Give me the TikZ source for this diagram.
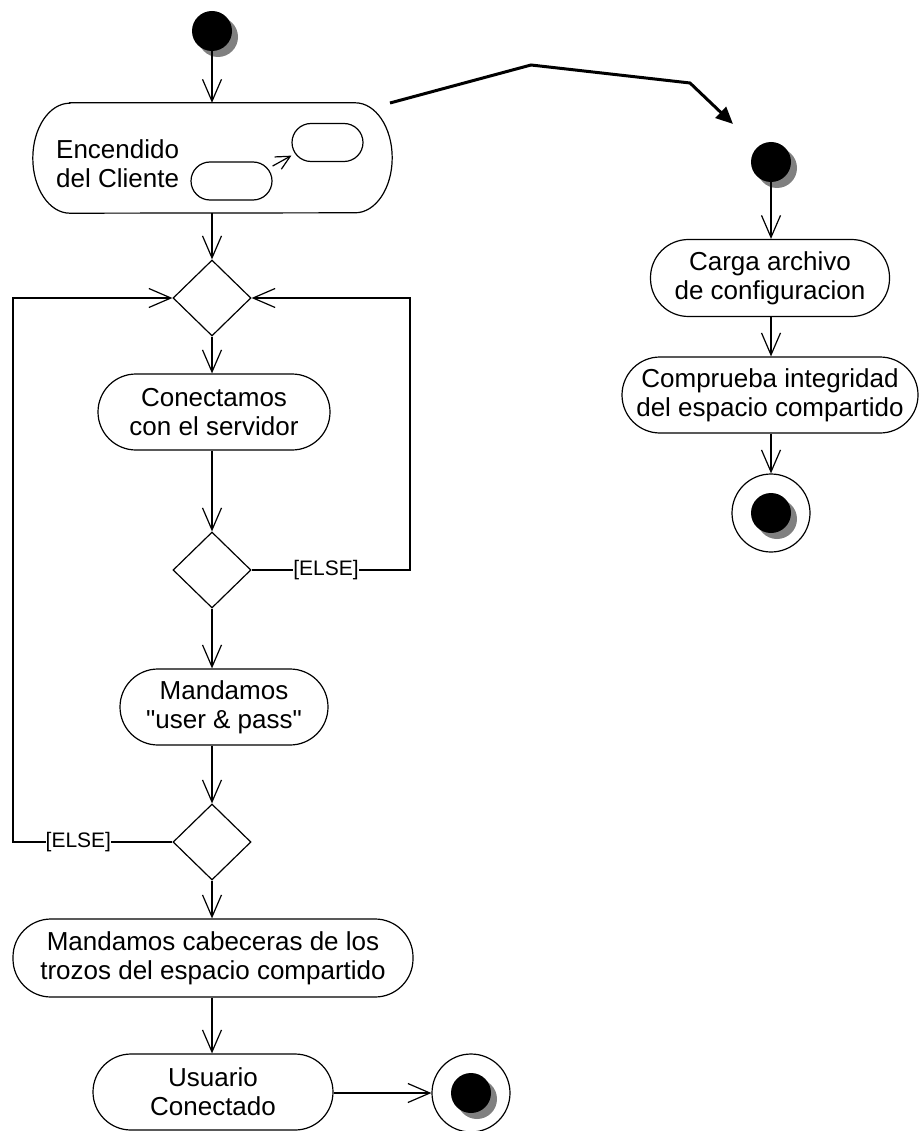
\documentclass[tikz,border=0pt]{standalone}
\usepackage{fontspec}
\setmainfont{Liberation Sans}[Ligatures=TeXOff]
\usetikzlibrary{arrows.meta,shapes.geometric,shadows,calc}
\definecolor{shadowgray}{RGB}{128,128,128}

\begin{document}
\begin{tikzpicture}[x=1pt,y=-1pt,
  every node/.style={font=\fontsize{26}{29}\selectfont},
  line/.style={line width=1.2pt},
  arr/.style={line, -{Straight Barb[length=22pt,width=19pt]}},
  smallarr/.style={line, -{Straight Barb[length=14pt,width=14pt]}},
  act/.style={draw, line width=1.2pt, rectangle, rounded corners=38pt,
    minimum height=76pt, inner sep=0pt, align=center},
  mini/.style={draw, line width=1.2pt, rectangle, rounded corners=19pt,
    minimum height=38pt, inner sep=0pt},
  decision/.style={draw, line width=1.2pt, diamond, minimum width=78pt,
    minimum height=76pt, inner sep=0pt},
  dot/.style={circle, fill=black, minimum size=40pt, inner sep=0pt,
    general shadow={shadow xshift=6pt, shadow yshift=-6pt, fill=shadowgray}},
  endring/.style={circle, draw, line width=1.2pt, minimum size=78pt, inner sep=0pt},
  guard/.style={fill=white, inner sep=0pt, font=\fontsize{21}{24}\selectfont},
]
\useasboundingbox (0,0) rectangle (920,1131);

% ---- main flow ----
\node[dot] (start1) at (212,31) {};

\node[minimum width=359pt, minimum height=110pt, inner sep=0pt] (enc) at (212.5,158) {};
\draw[line] ($(enc.north west)+(37,0)$) -- ($(enc.north east)+(-37,0)$)
  arc[start angle=-90, end angle=90, x radius=37, y radius=55]
  -- ($(enc.south west)+(37,0)$)
  arc[start angle=90, end angle=270, x radius=37, y radius=55] -- cycle;
\node[anchor=west, align=left, inner sep=0pt] (enctext) at (56,164) {Encendido\\del Cliente};
\node[mini, minimum width=71pt] (sub1) at (327.5,142.5) {};
\node[mini, minimum width=81pt] (sub2) at (231.5,181) {};
\draw[smallarr] (sub2.20) -- (sub1.200);

\node[decision] (d1) at (212,298) {};
\node[act, minimum width=232pt] (con) at (214,412) {Conectamos\\con el servidor};
\node[decision] (d2) at (212,570) {};
\node[act, minimum width=208pt] (man) at (224,707) {Mandamos\\"user \& pass"};
\node[decision] (d3) at (212,842) {};
\node[act, minimum width=400pt, minimum height=78pt] (cab) at (213,958)
  {Mandamos cabeceras de los\\trozos del espacio compartido};
\node[act, minimum width=240pt] (usu) at (213,1092) {Usuario\\Conectado};
\node[endring] (fin1) at (471,1093) {};
\node[dot] (fin1dot) at (fin1) {};

\draw[arr] (start1) -- (start1 |- enc.north);
\draw[arr] (enc.south -| d1.north) -- (d1.north);
\draw[arr] (d1.south) -- (d1.south |- con.north);
\draw[arr] (con.south -| d2.north) -- (d2.north);
\draw[arr] (d2.south) -- (d2.south |- man.north);
\draw[arr] (man.south -| d3.north) -- (d3.north);
\draw[arr] (d3.south) -- (d3.south |- cab.north);
\draw[arr] (cab.south -| d3.south) -- (usu.north -| d3.south);
\draw[arr] (usu.east |- fin1) -- (fin1.west);

% ---- retry loops ----
\coordinate (rloopA) at (410,570);
\coordinate (rloopB) at (410,298);
\coordinate (lloopA) at (13,842);
\coordinate (lloopB) at (13,298);
\draw[arr] (d2.east) -- node[guard, pos=0.47] (else1) {[ELSE]} (rloopA) -- (rloopB) -- (d1.east);
\draw[arr] (d3.west) -- node[guard, pos=0.59] (else2) {[ELSE]} (lloopA) -- (lloopB) -- (d1.west);

% ---- expansion of the start-up activity ----
\coordinate (bigA) at (390,103);
\coordinate (bigB) at (531,65);
\coordinate (bigC) at (690,83);
\coordinate (bigD) at (733,124);
\draw[line width=3pt, -{Triangle[length=17pt,width=15pt]}] (bigA) -- (bigB) -- (bigC) -- (bigD);

\node[dot] (start2) at (771,162) {};
\node[act, minimum width=239pt, minimum height=77pt] (carga) at (770,278) {Carga archivo\\de configuracion};
\node[act, minimum width=296pt] (comp) at (770,395) {Comprueba integridad\\del espacio compartido};
\node[endring] (fin2) at (771,513) {};
\node[dot] (fin2dot) at (fin2) {};

\draw[arr] (start2) -- (start2 |- carga.north);
\draw[arr] (carga.south -| start2) -- (comp.north -| start2);
\draw[arr] (comp.south -| start2) -- (fin2.north);
\end{tikzpicture}
\end{document}
